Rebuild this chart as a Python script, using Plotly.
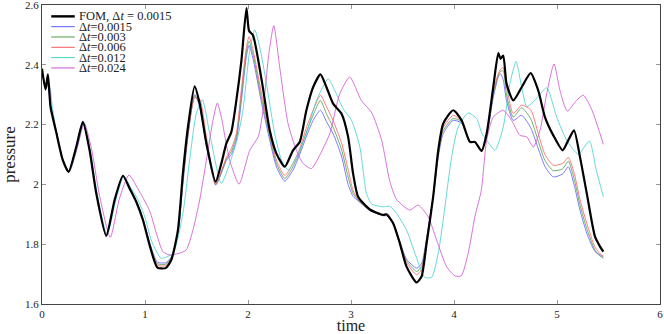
import plotly.graph_objects as go

# time grid shared by the FOM and the three finest ROM runs
t_main = [0.0, 0.034, 0.057, 0.083, 0.138, 0.202, 0.258, 0.332, 0.397, 0.462,
          0.527, 0.624, 0.705, 0.786, 0.85, 0.915, 0.98, 1.05, 1.12, 1.2,
          1.256, 1.32, 1.368, 1.417, 1.482, 1.531, 1.596, 1.686, 1.741, 1.79,
          1.838, 1.887, 1.936, 1.985, 2.01, 2.049, 2.133, 2.211, 2.276, 2.357,
          2.437, 2.502, 2.567, 2.632, 2.703, 2.762, 2.826, 2.907, 2.972, 3.02,
          3.069, 3.183, 3.312, 3.345, 3.409, 3.474, 3.539, 3.637, 3.685, 3.734,
          3.798, 3.847, 3.895, 3.992, 4.074, 4.155, 4.203, 4.268, 4.317, 4.381,
          4.43, 4.452, 4.478, 4.51, 4.575, 4.657, 4.744, 4.818, 4.883, 4.964,
          5.055, 5.11, 5.165, 5.223, 5.289, 5.369, 5.418, 5.45]

p_fom = [2.387, 2.317, 2.368, 2.259, 2.175, 2.081, 2.042, 2.125, 2.209, 2.114,
         1.970, 1.828, 1.948, 2.029, 1.987, 1.942, 1.881, 1.79, 1.722, 1.72,
         1.748, 1.848, 2.037, 2.192, 2.328, 2.27, 2.137, 2.009, 2.07, 2.137,
         2.175, 2.281, 2.414, 2.59, 2.514, 2.498, 2.348, 2.181, 2.103, 2.059,
         2.114, 2.142, 2.248, 2.325, 2.368, 2.325, 2.27, 2.237, 2.159, 2.037,
         1.959, 1.916, 1.898, 1.9, 1.87, 1.803, 1.725, 1.672, 1.692, 1.803,
         1.959, 2.114, 2.203, 2.248, 2.214, 2.142, 2.142, 2.112, 2.17, 2.325,
         2.439, 2.42, 2.431, 2.337, 2.281, 2.325, 2.372, 2.314, 2.225, 2.164,
         2.114, 2.148, 2.181, 2.092, 1.97, 1.825, 1.792, 1.775]

p_0015 = [2.385, 2.32, 2.35, 2.26, 2.175, 2.08, 2.042, 2.125, 2.207, 2.115,
          1.972, 1.83, 1.945, 2.027, 1.99, 1.945, 1.885, 1.8, 1.74, 1.738,
          1.757, 1.837, 2.0, 2.16, 2.3, 2.26, 2.13, 1.998, 2.037, 2.08,
          2.1, 2.148, 2.28, 2.43, 2.465, 2.42, 2.27, 2.148, 2.059, 2.011,
          2.048, 2.1, 2.16, 2.214, 2.248, 2.21, 2.17, 2.095, 2.0, 1.96,
          1.945, 1.912, 1.895, 1.895, 1.87, 1.81, 1.75, 1.72, 1.735, 1.82,
          1.96, 2.09, 2.17, 2.214, 2.205, 2.14, 2.14, 2.112, 2.16, 2.29,
          2.36, 2.37, 2.35, 2.28, 2.214, 2.231, 2.19, 2.12, 2.06, 2.025,
          2.035, 2.059, 2.0, 1.914, 1.837, 1.775, 1.764, 1.758]

p_003 = [2.385, 2.32, 2.352, 2.26, 2.175, 2.08, 2.042, 2.125, 2.207, 2.115,
         1.972, 1.83, 1.946, 2.027, 1.99, 1.944, 1.884, 1.797, 1.735, 1.733,
         1.755, 1.841, 2.01, 2.165, 2.295, 2.27, 2.145, 1.999, 2.041, 2.085,
         2.11, 2.16, 2.3, 2.445, 2.479, 2.435, 2.285, 2.159, 2.07, 2.02,
         2.059, 2.11, 2.175, 2.231, 2.281, 2.235, 2.192, 2.118, 2.025, 1.97,
         1.948, 1.913, 1.896, 1.896, 1.87, 1.808, 1.745, 1.709, 1.725, 1.815,
         1.96, 2.1, 2.18, 2.22, 2.21, 2.141, 2.141, 2.112, 2.165, 2.3,
         2.365, 2.378, 2.38, 2.3, 2.225, 2.256, 2.22, 2.145, 2.08, 2.046,
         2.052, 2.078, 2.02, 1.932, 1.852, 1.78, 1.76, 1.753]

p_006 = [2.385, 2.32, 2.355, 2.26, 2.175, 2.08, 2.042, 2.125, 2.208, 2.115,
         1.971, 1.829, 1.947, 2.028, 1.989, 1.943, 1.883, 1.795, 1.73, 1.728,
         1.752, 1.845, 2.02, 2.17, 2.29, 2.285, 2.16, 2.0, 2.045, 2.09,
         2.12, 2.17, 2.32, 2.46, 2.494, 2.45, 2.3, 2.17, 2.081, 2.03,
         2.07, 2.12, 2.19, 2.248, 2.298, 2.26, 2.214, 2.14, 2.05, 1.98,
         1.95, 1.914, 1.897, 1.898, 1.87, 1.806, 1.738, 1.698, 1.715, 1.81,
         1.96, 2.105, 2.19, 2.231, 2.212, 2.142, 2.142, 2.112, 2.168, 2.31,
         2.37, 2.385, 2.39, 2.33, 2.237, 2.265, 2.25, 2.17, 2.1, 2.064,
         2.07, 2.09, 2.04, 1.95, 1.87, 1.79, 1.768, 1.76]

# coarser runs, lagging behind
t_012 = [0.0, 0.034, 0.07, 0.1, 0.138, 0.202, 0.265, 0.34, 0.405, 0.47,
         0.535, 0.632, 0.715, 0.795, 0.86, 0.93, 1.0, 1.064, 1.158, 1.271,
         1.368, 1.433, 1.498, 1.557, 1.628, 1.741, 1.822, 1.893, 1.951, 2.017,
         2.065, 2.114, 2.179, 2.259, 2.325, 2.39, 2.47, 2.567, 2.665, 2.778,
         2.843, 2.924, 3.005, 3.086, 3.15, 3.202, 3.312, 3.377, 3.442, 3.539,
         3.62, 3.717, 3.782, 3.847, 3.912, 3.977, 4.041, 4.138, 4.22, 4.271,
         4.317, 4.398, 4.478, 4.543, 4.602, 4.657, 4.706, 4.786, 4.9, 4.997,
         5.094, 5.207, 5.314, 5.38, 5.45]
p_012 = [2.38, 2.33, 2.33, 2.26, 2.18, 2.085, 2.042, 2.12, 2.205, 2.11,
         1.97, 1.83, 1.945, 2.028, 1.99, 1.95, 1.89, 1.81, 1.753, 1.77,
         1.903, 2.081, 2.237, 2.283, 2.17, 2.003, 2.07, 2.148, 2.248, 2.448,
         2.517, 2.459, 2.337, 2.17, 2.081, 2.048, 2.092, 2.17, 2.281, 2.353,
         2.314, 2.253, 2.214, 2.125, 1.97, 1.934, 1.925, 1.927, 1.903, 1.848,
         1.77, 1.689, 1.689, 1.77, 1.925, 2.092, 2.192, 2.239, 2.22, 2.17,
         2.148, 2.114, 2.192, 2.337, 2.411, 2.325, 2.261, 2.281, 2.323, 2.225,
         2.148, 2.101, 2.145, 2.05, 1.959]

t_024 = [0.0, 0.04, 0.065, 0.09, 0.14, 0.205, 0.262, 0.34, 0.41, 0.48,
         0.56, 0.663, 0.75, 0.844, 0.948, 1.045, 1.11, 1.174, 1.239, 1.336,
         1.401, 1.466, 1.531, 1.596, 1.66, 1.702, 1.741, 1.822, 1.913, 2.017,
         2.1, 2.146, 2.2, 2.25, 2.308, 2.389, 2.47, 2.535, 2.616, 2.713,
         2.794, 2.891, 2.988, 3.1, 3.2, 3.296, 3.377, 3.442, 3.571, 3.652,
         3.749, 3.831, 3.928, 4.01, 4.07, 4.138, 4.203, 4.265, 4.317, 4.381,
         4.478, 4.56, 4.64, 4.706, 4.77, 4.835, 4.9, 4.971, 5.029, 5.1,
         5.19, 5.256, 5.34, 5.45]
p_024 = [2.375, 2.32, 2.34, 2.255, 2.175, 2.08, 2.042, 2.12, 2.205, 2.12,
         1.96, 1.823, 1.95, 2.031, 1.975, 1.912, 1.837, 1.775, 1.764, 1.77,
         1.781, 1.848, 1.948, 2.081, 2.214, 2.272, 2.225, 2.081, 2.001, 2.114,
         2.16, 2.248, 2.43, 2.531, 2.392, 2.203, 2.114, 2.07, 2.053, 2.109,
         2.17, 2.303, 2.359, 2.281, 2.24, 2.15, 2.01, 1.95, 1.914, 1.931,
         1.892, 1.814, 1.725, 1.694, 1.694, 1.77, 1.892, 1.98, 2.148, 2.225,
         2.248, 2.214, 2.164, 2.159, 2.125, 2.181, 2.303, 2.403, 2.314, 2.245,
         2.281, 2.298, 2.248, 2.134]

labels = ['FOM, Δ<i>t</i> = 0.0015', 'Δ<i>t</i>=0.0015', 'Δ<i>t</i>=0.003',
          'Δ<i>t</i>=0.006', 'Δ<i>t</i>=0.012', 'Δ<i>t</i>=0.024']
colors = ['black', '#5a5aff', '#4c9c4c', '#ff5a5a', '#3fcfcf', '#cf4fcf']
widths = [2.2, 0.8, 0.8, 0.8, 0.8, 0.8]
times = [t_main, t_main, t_main, t_main, t_012, t_024]
values = [p_fom, p_0015, p_003, p_006, p_012, p_024]

fig = go.Figure()
# thin lines first, FOM drawn on top
for i in [1, 2, 3, 4, 5, 0]:
    fig.add_trace(go.Scatter(x=times[i], y=values[i], mode='lines', name=labels[i],
                             showlegend=False,
                             line=dict(color=colors[i], width=widths[i],
                                       shape='spline', smoothing=0.6)))

# compact pgfplots-like legend (plotly's own rows are too tall)
for i in range(6):
    yy = 0.962 - i * 0.0345
    fig.add_shape(type='line', xref='paper', yref='paper', x0=0.015, x1=0.053,
                  y0=yy, y1=yy, line=dict(color=colors[i], width=widths[i] + 0.2))
    fig.add_annotation(x=0.059, y=yy, xref='paper', yref='paper', text=labels[i],
                       showarrow=False, xanchor='left', yanchor='middle',
                       borderpad=0, font=dict(size=12.5, color='#222'))

serif = 'Liberation Serif, DejaVu Serif, serif'
axis_style = dict(showline=True, linecolor='#444', linewidth=1, mirror='ticks',
                  ticks='inside', ticklen=4, tickcolor='#999', showgrid=False,
                  zeroline=False, automargin=False, ticklabeloverflow='allow',
                  tickfont=dict(family=serif, size=11, color='#222'))

fig.update_layout(
    width=664, height=334,
    margin=dict(l=42, r=4, t=5, b=30),
    paper_bgcolor='white', plot_bgcolor='white',
    font=dict(family=serif, color='#222'),
    xaxis=dict(range=[0, 6], dtick=1, title=dict(text='time', font=dict(size=16)),
               **axis_style),
    yaxis=dict(range=[1.6, 2.6], dtick=0.2, title=dict(text='pressure', font=dict(size=17)),
               **axis_style),
)

fig.write_html("out.html", config={'displayModeBar': False},
               post_script="document.body.style.margin='0';")
